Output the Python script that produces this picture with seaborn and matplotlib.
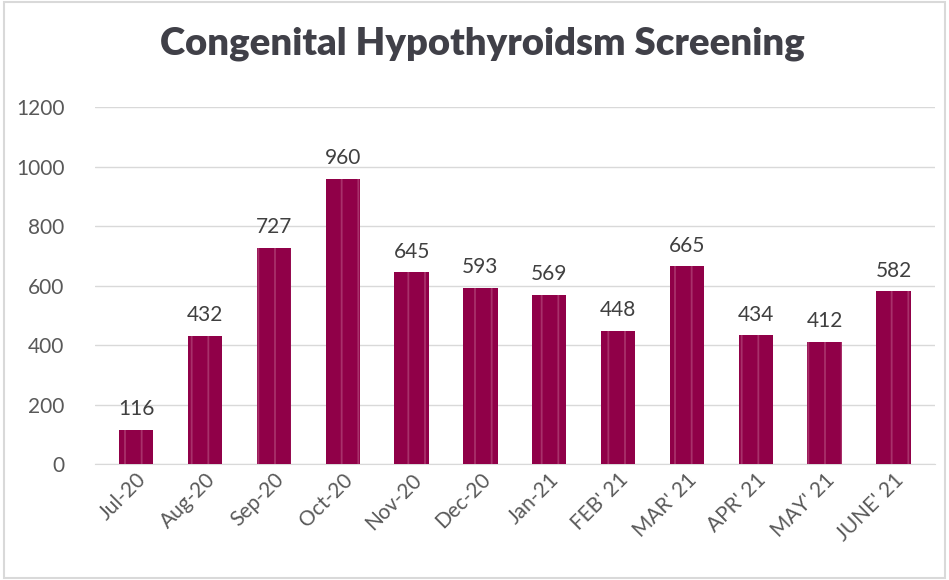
import matplotlib
matplotlib.use("Agg")
import matplotlib.pyplot as plt
import seaborn as sns
import pandas as pd

# -------------------------------
# Data
# -------------------------------
months = ["Jul-20", "Aug-20", "Sep-20", "Oct-20", "Nov-20", "Dec-20",
          "Jan-21", "FEB' 21", "MAR' 21", "APR' 21", "MAY' 21", "JUNE' 21"]
screened = [116, 432, 727, 960, 645, 593, 569, 448, 665, 434, 412, 582]

df = pd.DataFrame({"month": months, "screened": screened})

# -------------------------------
# Style
# -------------------------------
sns.set_style("white")
plt.rcParams["font.family"] = ["Lato", "DejaVu Sans"]
plt.rcParams["hatch.linewidth"] = 1.3

fig, ax = plt.subplots(figsize=(9.49, 5.80), dpi=100)
fig.subplots_adjust(left=0.1, right=0.985, top=0.815, bottom=0.2)

sns.barplot(data=df, x="month", y="screened", color="#900048",
            width=0.5, saturation=1, ax=ax, zorder=3)

# faint vertical stripes on the bars
for bar in ax.patches:
    bar.set_hatch("|")
    bar.set_edgecolor("#a8306a")
    bar.set_linewidth(0)

# value labels
for bar, v in zip(ax.patches, screened):
    ax.text(bar.get_x() + bar.get_width() / 2, v + 35, str(v),
            ha="center", va="bottom", fontsize=15, color="#404040")

ax.set_ylim(0, 1200)
ax.set_yticks(range(0, 1201, 200))
ax.yaxis.grid(True, color="#d9d9d9", linewidth=1)
ax.set_axisbelow(True)
ax.set_xlabel("")
ax.set_ylabel("")
ax.tick_params(axis="y", labelsize=15, labelcolor="#595959", length=0, pad=22)
ax.tick_params(axis="x", labelsize=15, labelcolor="#595959", length=0, pad=4)
plt.setp(ax.get_xticklabels(), rotation=45, ha="right", rotation_mode="anchor")
sns.despine(ax=ax, left=True, top=True, right=True)
ax.spines["bottom"].set_color("#d9d9d9")
ax.set_xlim(-0.6, 11.6)

fig.suptitle("Congenital Hypothyroidsm Screening", fontsize=27.5,
             fontweight="heavy", color="#404048", x=0.508, y=0.955)

# light outer border
fig.patches.append(plt.Rectangle((0.004, 0.004), 0.992, 0.992,
                                 transform=fig.transFigure, fill=False,
                                 edgecolor="#d9d9d9", linewidth=1.5))

plt.savefig("out.png", dpi=100)
